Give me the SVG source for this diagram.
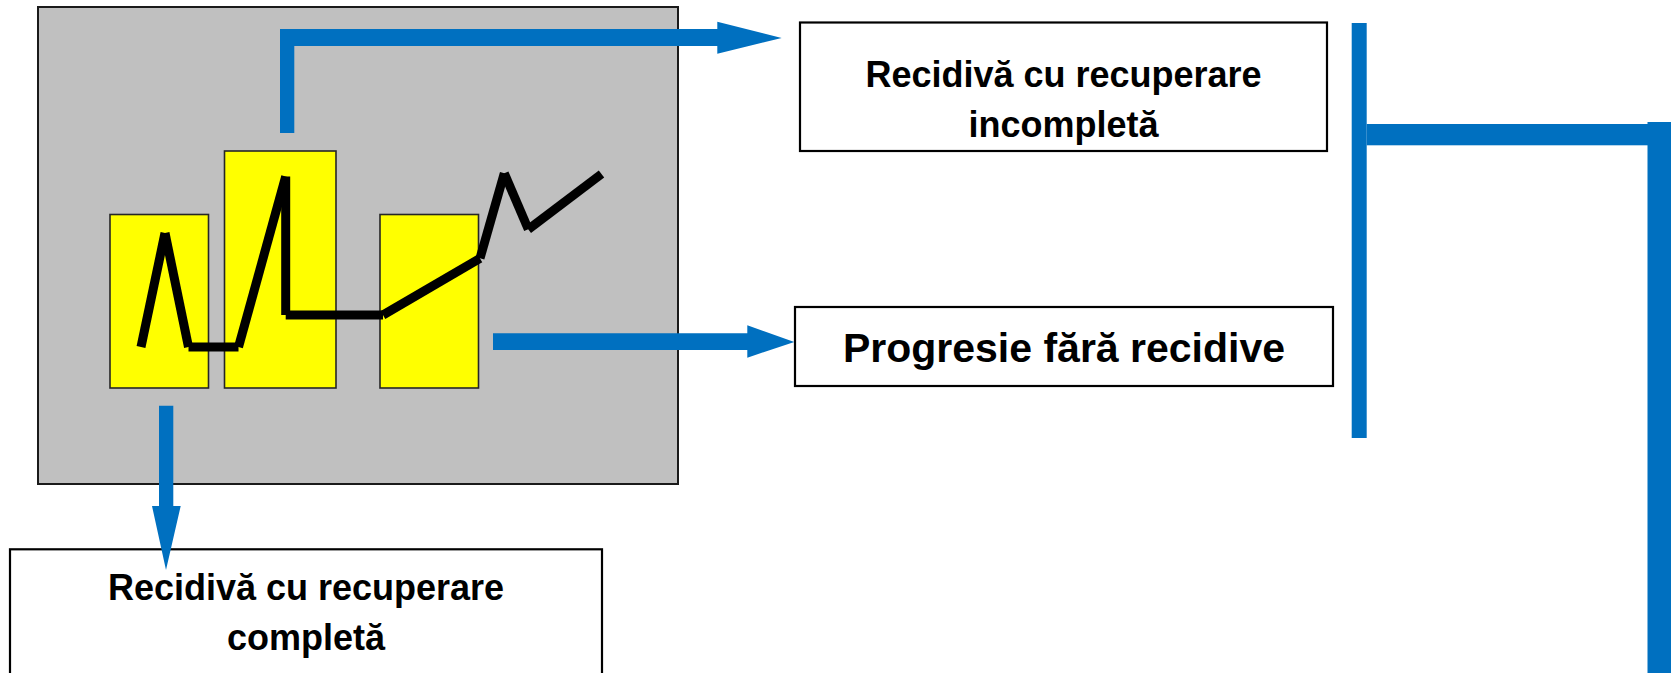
<svg xmlns="http://www.w3.org/2000/svg" width="1671" height="673" viewBox="0 0 1671 673">
  <defs>
    <style>
      .panel { fill: #c0c0c0; stroke: #1a1a1a; stroke-width: 2; }
      .bar { fill: #ffff00; stroke: #262626; stroke-width: 1.6; }
      .trace { stroke: #000000; stroke-width: 9; stroke-linecap: butt; fill: none; }
      .box { fill: #ffffff; stroke: #000000; stroke-width: 2.2; }
      .label { font-family: "Liberation Sans", Arial, sans-serif; font-weight: bold; fill: #000000; text-anchor: middle; }
      .flow { fill: #0070c0; stroke: none; }
    </style>
  </defs>
  <rect width="1671" height="673" fill="#ffffff"/>

  <!-- course chart: grey panel with three episode bars and the disease trace -->
  <g id="course-chart">
    <rect class="panel" x="38" y="7" width="640" height="477"/>
    <rect class="bar" x="110" y="214.5" width="98.5" height="173.5"/>
    <rect class="bar" x="224.5" y="151" width="111.5" height="237"/>
    <rect class="bar" x="380" y="214.5" width="98.5" height="173.5"/>
    <g class="trace">
      <line x1="141" y1="347" x2="165" y2="233"/>
      <line x1="165" y1="233" x2="188.5" y2="347"/>
      <line x1="188.5" y1="347" x2="238.5" y2="347"/>
      <line x1="238.5" y1="347" x2="285.7" y2="176.5"/>
      <line x1="285.7" y1="176.5" x2="285.7" y2="315"/>
      <line x1="285.7" y1="315" x2="383" y2="315"/>
      <line x1="383" y1="315" x2="480" y2="258.3"/>
      <line x1="480" y1="258.3" x2="504.3" y2="173.3"/>
      <line x1="504.3" y1="173.3" x2="528.3" y2="229.3"/>
      <line x1="528.3" y1="229.3" x2="601.5" y2="174"/>
    </g>
  </g>

  <g id="incomplete-recovery">
    <rect class="box" x="800" y="22.5" width="527" height="128.5"/>
    <text class="label" x="1063.5" y="87" font-size="36">Recidivă cu recuperare</text>
    <text class="label" x="1063.5" y="137" font-size="36">incompletă</text>
  </g>

  <g id="progression">
    <rect class="box" x="795" y="307" width="538" height="79"/>
    <text class="label" x="1064" y="361.5" font-size="41">Progresie fără recidive</text>
  </g>

  <g id="complete-recovery">
    <rect class="box" x="10" y="549.3" width="592" height="130"/>
    <text class="label" x="306" y="600" font-size="36">Recidivă cu recuperare</text>
    <text class="label" x="306" y="649.5" font-size="36">completă</text>
  </g>

  <g id="connectors">
    <!-- tall bar to incomplete recovery -->
    <path class="flow" d="M280 133 V29 H717.3 V21.7 L781.7 38 L717.3 53.7 V46 H294.3 V133 Z"/>
    <!-- third bar to progression -->
    <path class="flow" d="M493 333.3 H747.3 V325.3 L794.3 342 L747.3 357.7 V350 H493 Z"/>
    <!-- first bar to complete recovery -->
    <path class="flow" d="M159 405.7 H173.3 V506 H180.7 L166 570 L152 506 H159 Z"/>
    <!-- bracket on the right -->
    <rect class="flow" x="1351.7" y="23" width="15" height="415"/>
    <rect class="flow" x="1366.7" y="124" width="282" height="21.3"/>
    <rect class="flow" x="1647.5" y="122" width="23.5" height="551"/>
  </g>
</svg>
